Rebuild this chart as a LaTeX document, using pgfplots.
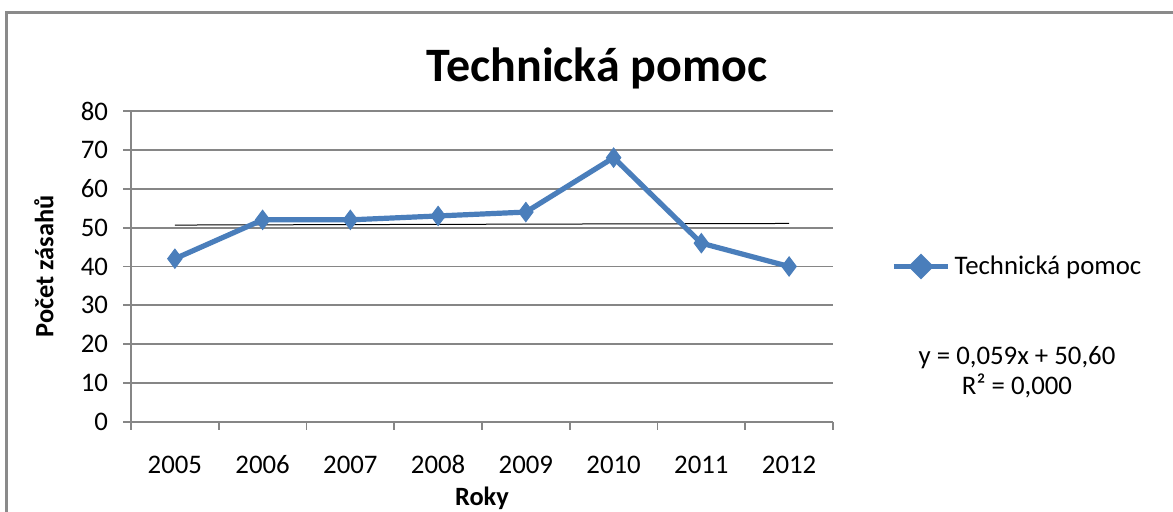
\documentclass[border=0pt]{standalone}
\usepackage{pgfplots}
\pgfplotsset{compat=1.18}
\usepackage{fontspec}
\setmainfont{Carlito}
\definecolor{serblue}{HTML}{4A7EBB}
\definecolor{gridgray}{HTML}{868686}
\definecolor{framegray}{HTML}{8A8A8A}
\begin{document}
\begin{tikzpicture}[x=1pt,y=1pt]
\useasboundingbox (0,0) rectangle (586.5,256);
\fill[white] (0,0) rectangle (586.5,256);
\draw[framegray, line width=1.5pt] (3.3,0) -- (3.3,249.5) -- (586.5,249.5);
\node[font=\fontsize{24}{28}\selectfont\bfseries] at (298.5,222) {Technická pomoc};
\begin{axis}[
  at={(65.5pt,45pt)}, anchor=south west,
  scale only axis, width=351pt, height=155.5pt,
  xmin=0.5, xmax=8.5, ymin=0, ymax=80,
  ytick={0,10,...,80},
  xtick={1,...,8},
  xticklabels={2005,2006,2007,2008,2009,2010,2011,2012},
  minor xtick={0.5,1.5,...,8.5},
  axis x line*=bottom, axis y line*=left,
  axis line style={gridgray, line width=0.9pt},
  every tick/.style={gridgray, line width=0.9pt},
  tick align=outside,
  major tick length=4pt, minor tick length=4pt,
  major x tick style={draw=none},
  minor x tick style={draw=gridgray},
  ymajorgrids, grid style={gridgray, line width=0.9pt},
  tick label style={font=\fontsize{13.4}{15}\selectfont},
  xticklabel style={anchor=base, yshift=-22pt},
  yticklabel style={xshift=-4pt},
  /pgf/number format/assume math mode=true,
  xlabel={\bfseries Roky}, ylabel={\bfseries Počet zásahů},
  label style={font=\fontsize{13.2}{14}\selectfont},
  xlabel style={at={(axis description cs:0.5,-0.245)}, anchor=center},
  ylabel style={at={(axis description cs:-0.124,0.5)}, anchor=center},
  clip=false,
  legend style={at={(1.0,0.5)}, anchor=west, xshift=29pt, draw=none, fill=none,
    font=\fontsize{13.4}{15}\selectfont, inner sep=0pt},
  legend cell align=left,
  legend image code/.code={\draw[serblue, line width=2.6pt] (0pt,0pt) -- (27pt,0pt);
    \fill[serblue] (13.5pt,4.6pt) -- (18.1pt,0pt) -- (13.5pt,-4.6pt) -- (8.9pt,0pt) -- cycle;},
]
\addplot[black, line width=0.5pt, forget plot] coordinates {(1,50.66) (8,51.07)};
\addplot[serblue, line width=2.6pt, mark=diamond*, mark size=4.8pt,
  mark options={fill=serblue, draw=serblue, line width=0.5pt}] coordinates {
 (1,42) (2,52) (3,52) (4,53) (5,54) (6,68) (7,46) (8,40)};
\addlegendentry{Technická pomoc}
\end{axis}
\node[font=\fontsize{13.4}{15}\selectfont, align=center] at (508.5,70) {y = 0,059x + 50,60\\[0pt]R² = 0,000};
\end{tikzpicture}
\end{document}
